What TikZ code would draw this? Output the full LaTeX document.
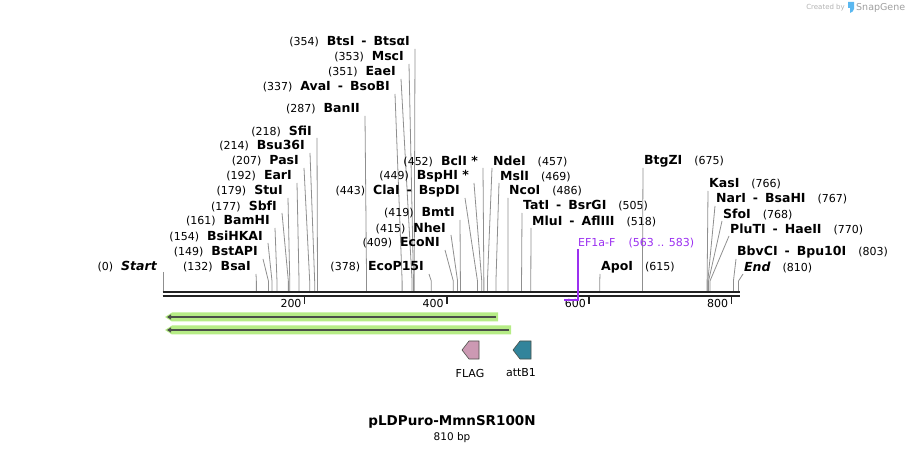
\documentclass[tikz,border=0pt]{standalone}
\usepackage{fontspec}
\setmainfont{DejaVu Sans}
\usetikzlibrary{arrows.meta,positioning}
\definecolor{cutgray}{HTML}{8F8F8F}
\definecolor{barblack}{HTML}{222222}
\definecolor{primerviolet}{HTML}{9B30F0}
\definecolor{glowgreen}{HTML}{B6EC86}
\definecolor{featdark}{HTML}{4A4F48}
\definecolor{flagpink}{HTML}{CC99B3}
\definecolor{attteal}{HTML}{32849B}
\definecolor{snapblue}{HTML}{5BB8F0}
\newcommand\enz[1]{{\fontsize{12.5}{14}\selectfont\bfseries #1}}
\newcommand\dsh{\hspace{7pt}-\hspace{7pt}}

\begin{document}
\begin{tikzpicture}[x=1pt, y=-1pt,
  lab/.style={font=\fontsize{11}{13}\selectfont, inner sep=0pt},
  cut/.style={cutgray, line width=.8pt},
  bar/.style={barblack, line width=2pt},
  feat/.style={draw=featdark, line width=.6pt}]
  \useasboundingbox (0,0) rectangle (905,454);
  \draw[bar] (162.5,292) -- (740,292);
  \draw[bar] (162.5,296) -- (740,296);
  \foreach \b in {200,400,600,800} {
    \draw[barblack, line width=1.5pt] ({162.5+0.711*\b},297) -- ++(0,7);
    \node[lab, anchor=east] (t\b) at ({159.5+0.711*\b},303.5) {\b};
  }
  \foreach \b/\nm/\xr/\yc in {354/BtsI\dsh BtsαI/410/42, 353/MscI/404/57, 351/EaeI/396/72,
      337/AvaI\dsh BsoBI/390/87, 287/BanII/360/109, 218/SfiI/312/131, 214/Bsu36I/305/146,
      207/PasI/299/161, 192/EarI/292/176, 179/StuI/283/191, 177/SbfI/277/206, 161/BamHI/270/221,
      154/BsiHKAI/263/236, 149/BstAPI/258/252, 132/BsaI/251/267, 452/BclI */478/161,
      449/BspHI */469/176, 443/ClaI\dsh BspDI/460/191, 419/BmtI/455/213, 415/NheI/446/228,
      409/EcoNI/440/243, 378/EcoP15I/424/267} {
    \node[lab, anchor=east] (L\b) at (\xr,\yc) {(\b)\hspace{8pt}\enz{\nm}};
    \coordinate (s\b) at ({162.5+0.711*\b},291);
    \draw[cut] ([shift={(5,7)}]L\b.east) -- ([yshift=10pt]s\b) -- (s\b);
  }
  \foreach \b/\nm/\xl/\yc in {457/NdeI/493/161, 469/MslI/500/176, 486/NcoI/509/191,
      505/TatI\dsh BsrGI/523/206, 518/MluI\dsh AflIII/532/221, 615/ApoI/601/267,
      675/BtgZI/644/161, 766/KasI/709/184, 767/NarI\dsh BsaHI/716/199, 768/SfoI/723/214,
      770/PluTI\dsh HaeII/730/229, 803/BbvCI\dsh Bpu10I/737/252} {
    \node[lab, anchor=west] (R\b) at (\xl,\yc) {\enz{\nm}\hspace{12pt}(\b)};
    \coordinate (s\b) at ({162.5+0.711*\b},291);
    \draw[cut] ([shift={(-1,7)}]R\b.west) -- ([yshift=10pt]s\b) -- (s\b);
  }
  \node[lab, anchor=east] (L0) at (157,267) {(0)\hspace{8pt}\enz{\itshape Start}};
  \coordinate (s0) at (163,291);
  \draw[cut] ([shift={(6,5)}]L0.east) -- (s0);
  \node[lab, anchor=west] (R810) at (744,267) {\enz{\itshape End}\hspace{12pt}(810)};
  \coordinate (s810) at (738.5,291);
  \draw[cut] ([shift={(-1,7)}]R810.west) -- ([yshift=10pt]s810) -- (s810);

  \node[lab, primerviolet, anchor=west] (ef1a) at (578,243) {EF1a-F\hspace{13pt}(563 .. 583)};
  \coordinate (p563) at (564,300);
  \draw[primerviolet, line width=1.4pt] ([yshift=-1pt]ef1a.south west) -- (ef1a.south west |- p563) -- (p563);

  \fill[glowgreen] (165,317) -- (172,312.5) -- (498,312.5) -- (498,321.5) -- (172,321.5) -- cycle;
  \draw[featdark, line width=1.8pt, -{Triangle[length=4pt,width=5pt]}] (496,317) -- (167,317);
  \fill[glowgreen] (165,330) -- (172,325.5) -- (511,325.5) -- (511,334.5) -- (172,334.5) -- cycle;
  \draw[featdark, line width=1.8pt, -{Triangle[length=4pt,width=5pt]}] (509,330) -- (167,330);

  \filldraw[fill=flagpink, feat] (462,350) -- (469,341) -- (479,341) -- (479,359) -- (469,359) -- cycle;
  \node[lab] (flag) at (470,373) {FLAG};
  \filldraw[fill=attteal, feat] (513,350) -- (520,341) -- (531,341) -- (531,359) -- (520,359) -- cycle;
  \node[lab] (attb) at (521,373) {attB1};

  \node[font=\fontsize{13.5}{15}\selectfont\bfseries, inner sep=0pt] (title) at (452,422) {pLDPuro-MmnSR100N};
  \node[lab, font=\fontsize{10.5}{12}\selectfont] (size) at (452,438) {810 bp};

  \node[font=\fontsize{7}{8}\selectfont, gray!60, anchor=east, inner sep=0pt] (made) at (845,7.5) {Created by};
  \fill[snapblue] (848,2) -- (854,2) -- (854,9) .. controls (854,11) and (852,12) .. (850,13) -- (850,8) -- (848,8) -- cycle;
  \node[font=\fontsize{9.5}{10}\selectfont, gray!75, anchor=west, inner sep=0pt] (snap) at (856,7.5) {SnapGene};
\end{tikzpicture}
\end{document}
